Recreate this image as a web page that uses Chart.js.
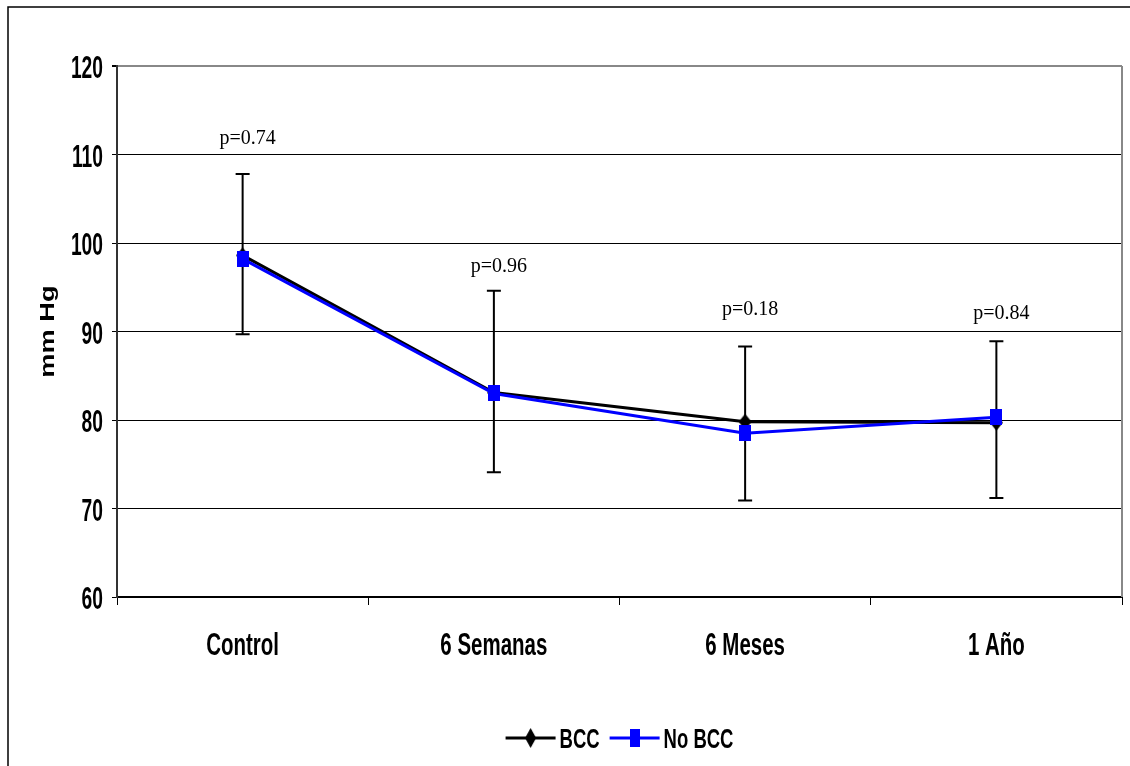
<!DOCTYPE html>
<html>
<head>
<meta charset="utf-8">
<script src="https://cdn.jsdelivr.net/npm/chart.js@4/dist/chart.umd.min.js"></script>
<style>
  html, body { margin: 0; padding: 0; background: #fff; }
  #wrap { width: 1130px; height: 766px; }
</style>
</head>
<body>
<div id="wrap"><canvas id="chart" width="1130" height="766"></canvas></div>
<script>
// Chart data
const categories = ['Control', '6 Semanas', '6 Meses', '1 Año'];
const seriesNames = ['BCC', 'No BCC'];
const bccValues = [98.6, 83.1, 79.8, 79.7];
const noBccValues = [98.2, 83.0, 78.5, 80.3];
const errHigh = [107.8, 94.6, 88.3, 88.9];
const errLow = [89.7, 74.1, 70.9, 71.2];
const pLabels = ['p=0.74', 'p=0.96', 'p=0.18', 'p=0.84'];
const pLabelY = [111.8, 97.3, 92.5, 92.0];
const yTicks = [60, 70, 80, 90, 100, 110, 120];
const yTitle = 'mm Hg';

const SANS = '"Liberation Sans", Arial, sans-serif';
const colors = ['#000000', '#0000ff'];

// The original uses a condensed bold face; squeeze the text horizontally
function narrowText(ctx, text, x, y, size, squeeze, align) {
    ctx.save();
    ctx.font = 'bold ' + size + 'px ' + SANS;
    const w = ctx.measureText(text).width * squeeze;
    let left = x;
    if (align === 'center') left = x - w / 2;
    if (align === 'right') left = x - w;
    ctx.translate(left, y);
    ctx.scale(squeeze, 1);
    ctx.textAlign = 'left';
    ctx.textBaseline = 'alphabetic';
    ctx.fillText(text, 0, 0);
    ctx.restore();
    return w;
}

function makeMarker(kind, w, h, color) {
    const c = document.createElement('canvas');
    c.width = w; c.height = h;
    const ctx = c.getContext('2d');
    ctx.fillStyle = color;
    if (kind === 'diamond') {
        ctx.beginPath();
        ctx.moveTo(w / 2, 0);
        ctx.lineTo(w, h / 2);
        ctx.lineTo(w / 2, h);
        ctx.lineTo(0, h / 2);
        ctx.closePath();
        ctx.fill();
    } else {
        ctx.fillRect(0, 0, w, h);
    }
    return c;
}

const diamondMarker = makeMarker('diamond', 13, 16, colors[0]);
const squareMarker = makeMarker('rect', 12, 16, colors[1]);
const legendMarkers = [makeMarker('diamond', 11, 20, colors[0]), makeMarker('rect', 10, 18, colors[1])];

// Error bars drawn under the lines
const errorBarPlugin = {
    id: 'errorBars',
    beforeDatasetsDraw(chart) {
        const {ctx, scales: {x, y}} = chart;
        ctx.save();
        ctx.strokeStyle = '#000';
        ctx.lineWidth = 2;
        categories.forEach((c, i) => {
            const px = x.getPixelForValue(i);
            const top = y.getPixelForValue(errHigh[i]);
            const bot = y.getPixelForValue(errLow[i]);
            ctx.beginPath();
            ctx.moveTo(px, top);
            ctx.lineTo(px, bot);
            ctx.moveTo(px - 7, top);
            ctx.lineTo(px + 7, top);
            ctx.moveTo(px - 7, bot);
            ctx.lineTo(px + 7, bot);
            ctx.stroke();
        });
        ctx.restore();
    }
};

// Axis labels, legend, p-values, borders
const decorPlugin = {
    id: 'decor',
    afterDraw(chart) {
        const {ctx, chartArea: a, scales: {x, y}} = chart;
        ctx.save();
        ctx.fillStyle = '#000';

        // category labels
        categories.forEach((c, i) => {
            narrowText(ctx, c, x.getPixelForValue(i), a.bottom + 58, 32, 0.64, 'center');
        });

        // y tick labels
        yTicks.forEach(v => {
            narrowText(ctx, String(v), a.left - 14, y.getPixelForValue(v) + 12, 31, 0.62, 'right');
        });

        // y title, rotated and stretched along its length
        ctx.save();
        ctx.translate(54, (a.top + a.bottom) / 2);
        ctx.rotate(-Math.PI / 2);
        ctx.scale(1.3, 1);
        ctx.font = 'bold 21px ' + SANS;
        ctx.textAlign = 'center';
        ctx.textBaseline = 'alphabetic';
        ctx.fillText(yTitle, 0, 0);
        ctx.restore();

        // p-values
        ctx.font = '20px "Liberation Serif", "Times New Roman", serif';
        ctx.textAlign = 'center';
        ctx.textBaseline = 'middle';
        pLabels.forEach((t, i) => {
            ctx.fillText(t, x.getPixelForValue(i) + 5, y.getPixelForValue(pLabelY[i]));
        });

        // legend
        ctx.font = 'bold 28px ' + SANS;
        const squeeze = 0.66, symW = 50, gapText = 4, gapItem = 10;
        const widths = seriesNames.map(n => ctx.measureText(n).width * squeeze);
        let total = 0;
        widths.forEach((w, i) => { total += symW + gapText + w + (i ? 0 : gapItem); });
        let lx = (a.left + a.right) / 2 - total / 2;
        const ly = 738;
        seriesNames.forEach((n, i) => {
            ctx.strokeStyle = colors[i];
            ctx.lineWidth = 3;
            ctx.beginPath();
            ctx.moveTo(lx, ly);
            ctx.lineTo(lx + symW, ly);
            ctx.stroke();
            const m = legendMarkers[i];
            ctx.drawImage(m, lx + symW / 2 - m.width / 2, ly - m.height / 2);
            lx += symW + gapText;
            narrowText(ctx, n, lx, ly + 10, 28, squeeze, 'left');
            lx += widths[i] + gapItem;
        });

        // right border of plot area
        ctx.strokeStyle = '#888';
        ctx.lineWidth = 2;
        ctx.beginPath();
        ctx.moveTo(a.right, a.top);
        ctx.lineTo(a.right, a.bottom);
        ctx.stroke();

        // outer frame
        ctx.strokeStyle = '#000';
        ctx.lineWidth = 1.5;
        ctx.beginPath();
        ctx.moveTo(8, 766);
        ctx.lineTo(8, 7);
        ctx.lineTo(1130, 7);
        ctx.stroke();
        ctx.restore();
    }
};

new Chart(document.getElementById('chart').getContext('2d'), {
    type: 'line',
    data: {
        labels: categories,
        datasets: [
            {
                label: seriesNames[0],
                data: bccValues,
                borderColor: colors[0],
                backgroundColor: colors[0],
                borderWidth: 3,
                pointStyle: diamondMarker,
                tension: 0,
                order: 1
            },
            {
                label: seriesNames[1],
                data: noBccValues,
                borderColor: colors[1],
                backgroundColor: colors[1],
                borderWidth: 3,
                pointStyle: squareMarker,
                tension: 0,
                order: 0
            }
        ]
    },
    options: {
        responsive: false,
        animation: false,
        events: [],
        layout: { padding: { left: 0, top: 66, right: 8, bottom: 0 } },
        scales: {
            x: {
                offset: true,
                grid: {
                    offset: true,
                    drawOnChartArea: false,
                    tickLength: 8,
                    tickColor: '#000',
                    tickWidth: 1
                },
                border: { color: '#000', width: 2 },
                ticks: { display: false },
                afterFit(scale) { scale.height = 169; }
            },
            y: {
                min: 60,
                max: 120,
                afterBuildTicks(scale) {
                    scale.ticks = yTicks.map(v => ({ value: v }));
                },
                grid: {
                    color: ctx => (ctx.tick && ctx.tick.value === 120) ? '#888' : '#000',
                    lineWidth: ctx => (ctx.tick && ctx.tick.value === 120) ? 2 : 1,
                    tickLength: 5,
                    tickColor: '#000'
                },
                border: { color: '#333', width: 2 },
                ticks: { display: false },
                afterFit(scale) { scale.width = 117; }
            }
        },
        plugins: {
            legend: { display: false },
            tooltip: { enabled: false }
        }
    },
    plugins: [errorBarPlugin, decorPlugin]
});
</script>
</body>
</html>
